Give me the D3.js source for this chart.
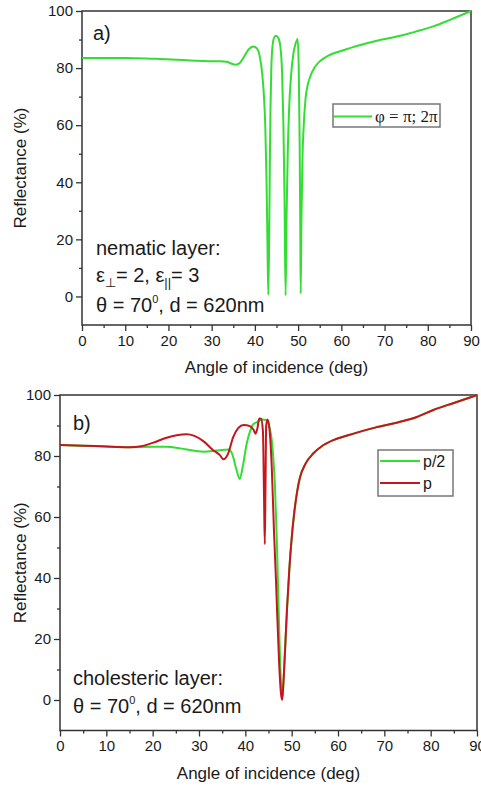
<!DOCTYPE html>
<html>
<head>
<meta charset="utf-8">
<script src="https://cdn.jsdelivr.net/npm/d3@7"></script>
<style>
body { margin: 0; background: #fff; }
text { font-family: Arial, "Liberation Sans", sans-serif; fill: #1a1a1a; }
text.serif { font-family: "Liberation Serif", "Times New Roman", serif; }
</style>
</head>
<body>
<div id="chart"></div>
<script>
// panel a) nematic layer, phi = pi; 2pi
var angleA = [0, 5, 10, 15, 18, 22, 26, 30, 32, 33.5, 34.5, 35.6, 36.5, 37.5, 38.5, 39.6, 40.5, 41.2, 41.7, 42.1,
  42.4, 42.7, 42.9, 43.1, 43.3, 43.45, 43.6, 43.8, 44.1, 44.5, 44.9, 45.4, 45.9, 46.3, 46.6, 46.85, 47.1, 47.35,
  47.6, 47.9, 48.4, 48.9, 49.4, 49.9, 50.15, 50.35, 50.5, 50.6, 50.75, 51.0, 51.3, 51.7, 52.2, 52.8, 53.8, 55.1,
  57, 59.7, 62, 64.4, 68, 73.6, 77, 81.3, 85, 90];
var reflA = [83.5, 83.5, 83.5, 83.4, 83.2, 82.9, 82.6, 82.4, 82.4, 82.2, 81.6, 81.2, 81.8, 84.0, 86.5, 87.6, 86.8, 83.5, 78, 70,
  60, 40, 20, 0.5, 20, 45, 65, 80, 88, 90.8, 91.3, 90.6, 87.5, 78, 60, 35, 0.3, 30,
  50, 65, 78, 85, 88.5, 90.2, 80, 55, 25, 1, 25, 48, 60, 69, 74, 77, 80.2, 82.5,
  84.4, 85.9, 87, 88.1, 89.5, 91.3, 92.7, 94.6, 96.8, 100];

// panel b) cholesteric layer, pitch p/2
var angleHalf = [0, 5, 10, 15, 20, 23, 26, 29, 31, 33, 35, 36.4, 37.2, 38, 38.8, 39.5, 40.3, 41, 41.7, 42.8,
  43.5, 44.6, 45.2, 45.7, 46.1, 46.4, 46.8, 47.1, 47.4, 47.7, 47.95, 48.2, 48.5, 49, 49.5, 50, 50.6, 51.2, 51.8,
  53, 54.7, 56.5, 59, 62, 64.8, 68, 73.4, 77, 80.6, 85, 90];
var reflHalf = [83.6, 83.4, 83.1, 82.9, 83.0, 83.0, 82.5, 81.7, 81.4, 81.6, 82.0, 82.1, 80.5, 76, 72.5, 77, 84.1, 88, 90.4, 91.3,
  92, 91.8, 89.5, 85.2, 78, 70, 52, 35, 18, 5.5, 0.5, 5, 14, 30, 43, 53, 62, 68.5, 73,
  77.5, 80.9, 83.2, 85.2, 86.7, 88, 89.3, 91.2, 92.8, 95.1, 97.4, 100];

// panel b) cholesteric layer, pitch p
var angleP = [0, 5, 10, 15, 17.5, 20, 23, 25.5, 27.3, 29, 31, 33, 34.5, 35.3, 36.2, 37.4, 38.5, 39.6, 41, 41.8,
  42.2, 42.6, 43.0, 43.4, 43.8, 44.05, 44.2, 44.35, 44.5, 44.8, 45.2, 45.7, 46.2, 46.6, 46.9, 47.3, 47.7, 47.95,
  48.2, 48.5, 49, 49.5, 50, 50.6, 51.2, 51.8, 53, 54.7, 56.5, 59, 62, 64.8, 68, 73.4, 77, 80.6, 85, 90];
var reflP = [83.6, 83.4, 83.1, 82.9, 83.2, 84.3, 86, 86.9, 87.1, 86.6, 84.8, 82, 80.3, 78.9, 80.5, 86.3, 89.2, 90.2, 89.8, 88.5,
  87.3, 89, 92.3, 92.2, 88, 65, 51.1, 70, 90, 92, 89, 76.5, 54.6, 40, 27.3, 12, 2, 0,
  5, 14, 30, 43, 53, 62, 68.5, 73, 77.5, 80.9, 83.2, 85.2, 86.7, 88, 89.3, 91.2, 92.8, 95.1, 97.4, 100];

var xTicks = [0, 10, 20, 30, 40, 50, 60, 70, 80, 90];
var xMinor = [5, 15, 25, 35, 45, 55, 65, 75, 85];
var yTicks = [0, 20, 40, 60, 80, 100];
var yMinor = [10, 30, 50, 70, 90];

var green = "#33dd33", red = "#c4161c";

var svg = d3.select("#chart")
  .append("svg")
    .attr("width", 481)
    .attr("height", 789);

function zip(xs, ys) { return xs.map(function(d, i) { return [d, ys[i]]; }); }

// draw one panel: frame, axes, ticks, titles, returns scales + group
function panel(left, top, right, bottom) {
  var w = right - left, h = bottom - top;
  var g = svg.append("g").attr("transform", "translate(" + left + "," + top + ")");
  var x = d3.scaleLinear().domain([0, 90]).range([0, w]);
  var y = d3.scaleLinear().domain([-10, 100]).range([h, 0]);

  // minor ticks
  g.append("g").attr("transform", "translate(0," + h + ")")
    .call(d3.axisBottom(x).tickValues(xMinor).tickSize(3).tickFormat(""))
    .call(function(a) { a.select(".domain").remove(); });
  g.append("g")
    .call(d3.axisLeft(y).tickValues(yMinor).tickSize(3).tickFormat(""))
    .call(function(a) { a.select(".domain").remove(); });

  var xa = g.append("g").attr("transform", "translate(0," + h + ")")
    .call(d3.axisBottom(x).tickValues(xTicks).tickSize(6).tickSizeOuter(0).tickPadding(4));
  var ya = g.append("g")
    .call(d3.axisLeft(y).tickValues(yTicks).tickSize(6).tickSizeOuter(0).tickPadding(3));
  [xa, ya].forEach(function(a) {
    a.select(".domain").remove();
    a.selectAll("text").attr("font-size", 15).attr("fill", "#1a1a1a");
  });
  g.selectAll(".tick line").attr("stroke", "#333").attr("stroke-width", 1.3);

  g.append("rect")
    .attr("width", w).attr("height", h)
    .attr("fill", "none").attr("stroke", "#333").attr("stroke-width", 1.5);

  g.append("text")
    .attr("x", w / 2).attr("y", h + 48)
    .attr("text-anchor", "middle").attr("font-size", 17)
    .text("Angle of incidence (deg)");
  g.append("text")
    .attr("transform", "translate(" + (26 - left) + "," + (h / 2) + ") rotate(-90)")
    .attr("text-anchor", "middle").attr("font-size", 17)
    .text("Reflectance (%)");

  return {g: g, x: x, y: y};
}

function curve(p, data, color) {
  var line = d3.line()
    .x(function(d) { return p.x(d[0]); })
    .y(function(d) { return p.y(d[1]); })
    .curve(d3.curveMonotoneX);
  p.g.append("path")
    .datum(data)
    .attr("fill", "none")
    .attr("stroke", color)
    .attr("stroke-width", 2)
    .attr("stroke-linejoin", "round")
    .attr("d", line);
}

// ---- panel a
var pa = panel(82, 11, 471, 325);
curve(pa, zip(angleA, reflA), green);

pa.g.append("text").attr("x", 11).attr("y", 29).attr("font-size", 20).text("a)");

var ta = pa.g.append("g").attr("font-size", 20);
ta.append("text").attr("x", 14).attr("y", 244).text("nematic layer:");
var eps = ta.append("text").attr("x", 14).attr("y", 271);
eps.append("tspan").text("ε");
eps.append("tspan").attr("font-size", 13).attr("dy", 5).text("⊥");
eps.append("tspan").attr("dy", -5).text("= 2, ε");
eps.append("tspan").attr("font-size", 13).attr("dy", 5).text("||");
eps.append("tspan").attr("dy", -5).text("= 3");
var tha = ta.append("text").attr("x", 14).attr("y", 301);
tha.append("tspan").text("θ = 70");
tha.append("tspan").attr("font-size", 11).attr("dy", -9).text("0");
tha.append("tspan").attr("dy", 9).text(", d = 620nm");

// legend a
var la = pa.g.append("g").attr("transform", "translate(251,93)");
la.append("rect").attr("width", 107).attr("height", 23)
  .attr("fill", "#fff").attr("stroke", "#777").attr("stroke-width", 1.5);
la.append("line").attr("x1", 1).attr("x2", 39).attr("y1", 12.5).attr("y2", 12.5)
  .attr("stroke", green).attr("stroke-width", 2);
la.append("text").attr("class", "serif").attr("x", 42).attr("y", 18).attr("font-size", 17)
  .text("φ = π; 2π");

// ---- panel b
var pb = panel(60, 395, 477, 730.5);
curve(pb, zip(angleHalf, reflHalf), green);
curve(pb, zip(angleP, reflP), red);

pb.g.append("text").attr("x", 13).attr("y", 35).attr("font-size", 20).text("b)");

var tb = pb.g.append("g").attr("font-size", 20);
tb.append("text").attr("x", 13).attr("y", 290).text("cholesteric layer:");
var thb = tb.append("text").attr("x", 13).attr("y", 318);
thb.append("tspan").text("θ = 70");
thb.append("tspan").attr("font-size", 11).attr("dy", -9).text("0");
thb.append("tspan").attr("dy", 9).text(", d = 620nm");

// legend b
var lb = pb.g.append("g").attr("transform", "translate(318,55)");
lb.append("rect").attr("width", 75).attr("height", 46)
  .attr("fill", "#fff").attr("stroke", "#777").attr("stroke-width", 1.5);
var keys = [["p/2", green], ["p", red]];
keys.forEach(function(k, i) {
  lb.append("line").attr("x1", 2).attr("x2", 42).attr("y1", 11 + i * 22).attr("y2", 11 + i * 22)
    .attr("stroke", k[1]).attr("stroke-width", 2);
  lb.append("text").attr("x", 45).attr("y", 17 + i * 22).attr("font-size", 16).text(k[0]);
});
</script>
</body>
</html>
